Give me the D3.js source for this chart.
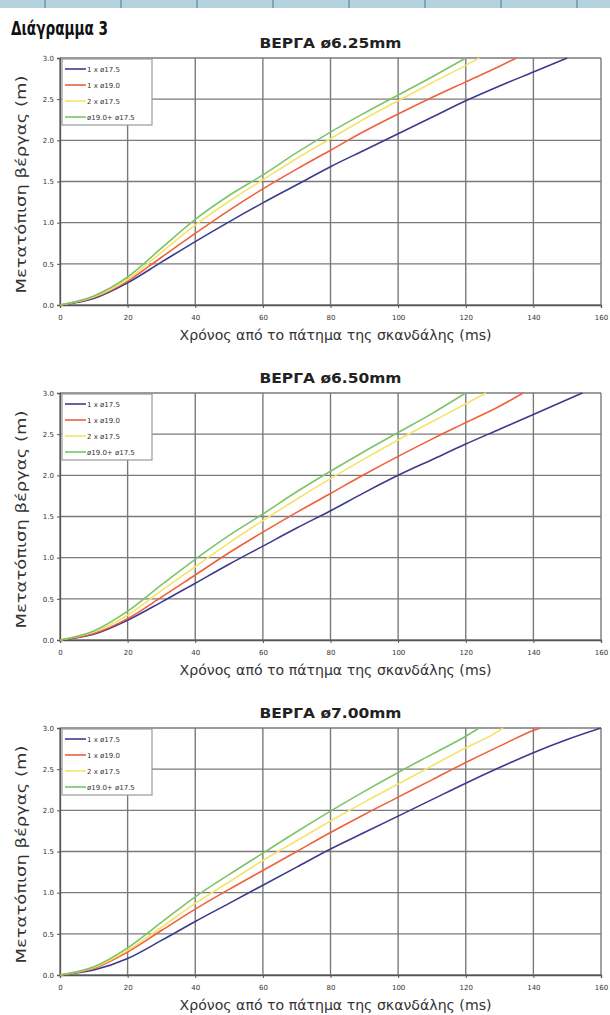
<!DOCTYPE html>
<html>
<head>
<meta charset="utf-8">
<script src="https://cdn.jsdelivr.net/npm/d3@7"></script>
<style>
  body { margin: 0; background: #fff; }
  svg { display: block; }
</style>
</head>
<body>
<div id="chart"></div>
<script>
// series names and colours
const seriesNames = ["1 x ø17.5", "1 x ø19.0", "2 x ø17.5", "ø19.0+ ø17.5"]
const seriesColors = ["#3b3b8e", "#f0603c", "#f4e46a", "#7cc468"]
const chartTitles = ["ΒΕΡΓΑ ø6.25mm", "ΒΕΡΓΑ ø6.50mm", "ΒΕΡΓΑ ø7.00mm"]
const xTicks = [0, 20, 40, 60, 80, 100, 120, 140, 160]
const yTicks = [0, 0.5, 1, 1.5, 2, 2.5, 3]

// [time ms, displacement m]
const rod625_a = [[0,0],[10,0.08],[20,0.27],[30,0.52],[40,0.77],[50,1.01],[60,1.24],[70,1.46],[80,1.68],[90,1.88],[100,2.08],[110,2.28],[120,2.48],[130,2.66],[140,2.83],[150,3.0]]
const rod625_b = [[0,0],[10,0.09],[20,0.29],[30,0.58],[40,0.87],[50,1.15],[60,1.41],[70,1.65],[80,1.88],[90,2.11],[100,2.32],[110,2.52],[120,2.71],[130,2.9],[135,3.0]]
const rod625_c = [[0,0],[10,0.1],[20,0.31],[30,0.64],[40,0.97],[50,1.26],[60,1.52],[70,1.78],[80,2.02],[90,2.26],[100,2.48],[110,2.7],[120,2.91],[124,3.0]]
const rod625_d = [[0,0],[10,0.11],[20,0.34],[30,0.69],[40,1.04],[50,1.33],[60,1.58],[70,1.85],[80,2.1],[90,2.33],[100,2.55],[110,2.77],[120,3.0]]

const rod650_a = [[0,0],[10,0.07],[20,0.24],[30,0.46],[40,0.69],[50,0.92],[60,1.14],[70,1.36],[80,1.57],[90,1.79],[100,2.0],[110,2.19],[120,2.38],[130,2.56],[140,2.74],[154.5,3.0]]
const rod650_b = [[0,0],[10,0.08],[20,0.26],[30,0.52],[40,0.79],[50,1.06],[60,1.31],[70,1.55],[80,1.78],[90,2.01],[100,2.23],[110,2.44],[120,2.64],[130,2.84],[137,3.0]]
const rod650_c = [[0,0],[10,0.1],[20,0.3],[30,0.6],[40,0.89],[50,1.18],[60,1.45],[70,1.71],[80,1.96],[90,2.2],[100,2.43],[110,2.65],[120,2.87],[126,3.0]]
const rod650_d = [[0,0],[10,0.11],[20,0.35],[30,0.67],[40,0.98],[50,1.27],[60,1.53],[70,1.8],[80,2.05],[90,2.29],[100,2.52],[110,2.75],[120,3.0]]

const rod700_a = [[0,0],[10,0.06],[20,0.2],[30,0.42],[40,0.65],[50,0.87],[60,1.09],[70,1.31],[80,1.53],[90,1.73],[100,1.93],[110,2.13],[120,2.33],[130,2.52],[140,2.7],[150,2.86],[160,3.0]]
const rod700_b = [[0,0],[10,0.08],[20,0.28],[30,0.54],[40,0.8],[50,1.04],[60,1.27],[70,1.5],[80,1.73],[90,1.95],[100,2.16],[110,2.37],[120,2.58],[130,2.78],[140,2.97],[142,3.0]]
const rod700_c = [[0,0],[10,0.09],[20,0.3],[30,0.58],[40,0.87],[50,1.13],[60,1.39],[70,1.63],[80,1.87],[90,2.1],[100,2.32],[110,2.54],[120,2.76],[130,2.97],[131,3.0]]
const rod700_d = [[0,0],[10,0.1],[20,0.33],[30,0.64],[40,0.95],[50,1.22],[60,1.48],[70,1.74],[80,1.99],[90,2.23],[100,2.46],[110,2.68],[120,2.9],[124,3.0]]

const charts = [
  [rod625_a, rod625_b, rod625_c, rod625_d],
  [rod650_a, rod650_b, rod650_c, rod650_d],
  [rod700_a, rod700_b, rod700_c, rod700_d]
]

const W = 610
const H = 1015
const plotLeft = 60, plotRight = 601, plotTop = 58, plotH = 247, step = 335

const svg = d3.select("#chart").append("svg")
  .attr("width", W)
  .attr("height", H)

// header strip
const strip = svg.append("g")
strip.append("rect")
  .attr("x", 0).attr("y", 0)
  .attr("width", W).attr("height", 8)
  .attr("fill", "#b5d2df")
d3.range(8).forEach(i => {
  strip.append("line")
    .attr("x1", 45 + i * 76).attr("x2", 45 + i * 76)
    .attr("y1", 0).attr("y2", 8)
    .attr("stroke", "#6b97b2").attr("stroke-width", 1.5)
})

svg.append("text")
  .attr("x", 11).attr("y", 35)
  .attr("textLength", 97)
  .attr("lengthAdjust", "spacingAndGlyphs")
  .style("font-family", "'DejaVu Sans', sans-serif")
  .style("font-weight", "bold")
  .style("font-size", "19px")
  .attr("fill", "#111")
  .text("Διάγραμμα 3")

const x = d3.scaleLinear().domain([0, 160]).range([plotLeft, plotRight])
const y = d3.scaleLinear().domain([0, 3]).range([plotH, 0])

svg.append("defs").append("clipPath")
  .attr("id", "plotClip")
  .append("rect")
  .attr("x", plotLeft).attr("y", -1)
  .attr("width", plotRight - plotLeft).attr("height", plotH + 2)

const line = d3.line()
  .x(d => x(d[0]))
  .y(d => y(d[1]))
  .curve(d3.curveMonotoneX)

charts.forEach((series, ci) => {
  const g = svg.append("g")
    .attr("transform", `translate(0, ${plotTop + ci * step})`)

  g.append("text")
    .attr("x", (plotLeft + plotRight) / 2).attr("y", -10)
    .attr("text-anchor", "middle")
    .attr("textLength", 142)
    .attr("lengthAdjust", "spacingAndGlyphs")
    .style("font-family", "'DejaVu Sans', sans-serif")
    .style("font-weight", "bold")
    .style("font-size", "14px")
    .attr("fill", "#222")
    .text(chartTitles[ci])

  // grid
  g.append("g")
    .selectAll("line")
    .data(xTicks)
    .enter()
    .append("line")
    .attr("x1", d => x(d)).attr("x2", d => x(d))
    .attr("y1", 0).attr("y2", plotH)
    .attr("stroke", "#7a7a7a").attr("stroke-width", 1.4)
  g.append("g")
    .selectAll("line")
    .data(yTicks)
    .enter()
    .append("line")
    .attr("x1", plotLeft).attr("x2", plotRight)
    .attr("y1", d => y(d)).attr("y2", d => y(d))
    .attr("stroke", "#7a7a7a").attr("stroke-width", 1.4)

  // axes
  const yAxis = g.append("g")
    .attr("transform", `translate(${plotLeft}, 0)`)
    .call(d3.axisLeft(y).tickValues(yTicks).tickFormat(d3.format(".1f")).tickSize(3))
  const xAxis = g.append("g")
    .attr("transform", `translate(0, ${plotH})`)
    .call(d3.axisBottom(x).tickValues(xTicks).tickSize(3))
  ;[yAxis, xAxis].forEach(ax => {
    ax.select(".domain").attr("stroke", "#555").attr("stroke-width", 1.3)
    ax.selectAll(".tick line").attr("stroke", "#555")
    ax.selectAll("text")
      .style("font-family", "'DejaVu Sans', sans-serif")
      .style("font-size", "7px")
      .attr("fill", "#333")
  })
  xAxis.selectAll("text").attr("dy", "1.3em")

  g.append("text")
    .attr("x", (plotLeft + plotRight) / 2 + 5).attr("y", plotH + 35)
    .attr("text-anchor", "middle")
    .attr("textLength", 312)
    .attr("lengthAdjust", "spacingAndGlyphs")
    .style("font-family", "'DejaVu Sans', sans-serif")
    .style("font-size", "14px")
    .attr("fill", "#333")
    .text("Χρόνος από το πάτημα της σκανδάλης (ms)")

  g.append("text")
    .attr("transform", `translate(26, ${plotH / 2 + 3}) rotate(-90)`)
    .attr("text-anchor", "middle")
    .attr("textLength", 218)
    .attr("lengthAdjust", "spacingAndGlyphs")
    .style("font-family", "'DejaVu Sans', sans-serif")
    .style("font-size", "14px")
    .attr("fill", "#333")
    .text("Μετατόπιση βέργας (m)")

  // series
  g.append("g")
    .attr("clip-path", "url(#plotClip)")
    .selectAll("path")
    .data(series)
    .enter()
    .append("path")
    .attr("d", line)
    .attr("fill", "none")
    .attr("stroke", (d, i) => seriesColors[i])
    .attr("stroke-width", 1.6)

  // legend
  const lg = g.append("g").attr("transform", `translate(${plotLeft + 2}, 1)`)
  lg.append("rect")
    .attr("x", 0).attr("y", 0)
    .attr("width", 90).attr("height", 66)
    .attr("fill", "#fff")
    .attr("stroke", "#999").attr("stroke-width", 1.2)
  seriesNames.forEach((name, i) => {
    const ly = 10 + i * 16
    lg.append("line")
      .attr("x1", 3).attr("x2", 24)
      .attr("y1", ly).attr("y2", ly)
      .attr("stroke", seriesColors[i]).attr("stroke-width", 1.6)
    lg.append("text")
      .attr("x", 25).attr("y", ly + 2.5)
      .style("font-family", "'DejaVu Sans', sans-serif")
      .style("font-size", "7px")
      .attr("fill", "#333")
      .text(name)
  })
})
</script>
</body>
</html>
